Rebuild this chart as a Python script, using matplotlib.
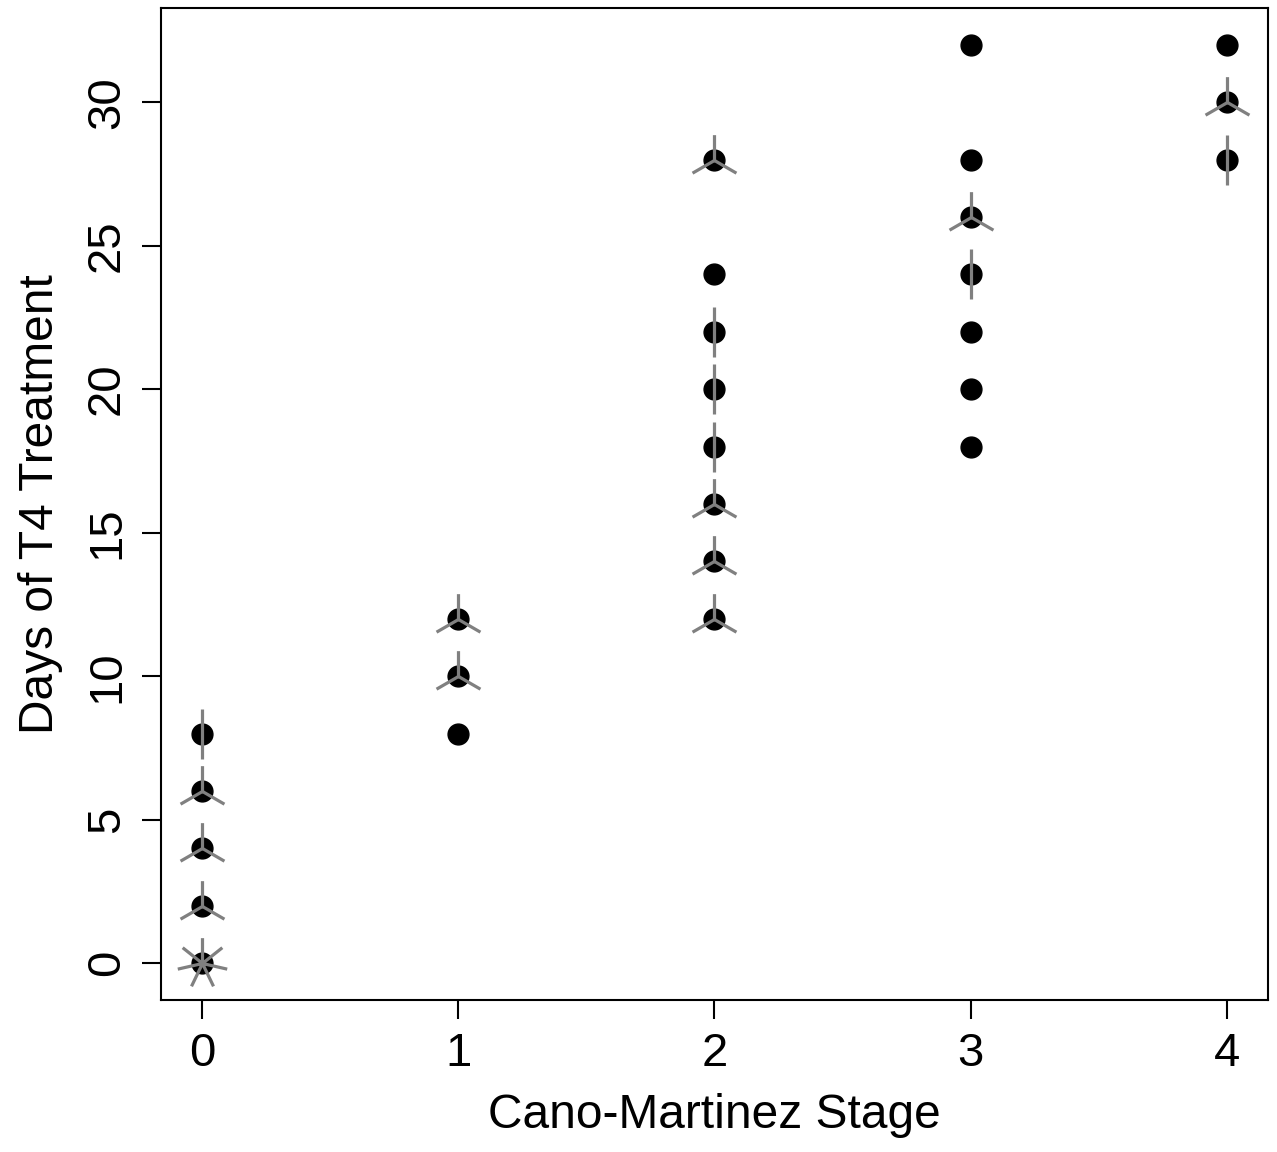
import numpy as np
import matplotlib
matplotlib.use("Agg")
import matplotlib.pyplot as plt
from matplotlib.path import Path

# Sunflower plot data: (stage, days, number of coincident observations)
stage = [0, 0, 0, 0, 0,
         1, 1, 1,
         2, 2, 2, 2, 2, 2, 2, 2,
         3, 3, 3, 3, 3, 3, 3,
         4, 4, 4]
days = [0, 2, 4, 6, 8,
        8, 10, 12,
        12, 14, 16, 18, 20, 22, 24, 28,
        18, 20, 22, 24, 26, 28, 32,
        28, 30, 32]
count = [7, 3, 3, 3, 2,
         1, 3, 3,
         3, 3, 3, 2, 2, 2, 1, 3,
         1, 1, 1, 2, 3, 1, 1,
         2, 3, 1]

x_ticks = [0, 1, 2, 3, 4]
y_ticks = [0, 5, 10, 15, 20, 25, 30]
x_label = "Cano-Martinez Stage"
y_label = "Days of T4 Treatment"

plt.rcParams['font.family'] = ['Liberation Sans', 'DejaVu Sans']

W, H, DPI = 1277, 1152, 100
fig = plt.figure(figsize=(W / DPI, H / DPI), dpi=DPI)
ax = fig.add_axes([161 / W, 1 - 1000 / H, (1268 - 161) / W, (1000 - 8) / H])

xs = np.array(stage, dtype=float)
ys = np.array(days, dtype=float)
cs = np.array(count)

# centre dots
ax.plot(xs, ys, linestyle='none', marker='o', markersize=15,
        markerfacecolor='black', markeredgecolor='black', zorder=2)


def petal_marker(n):
    verts, codes = [], []
    for k in range(n):
        a = np.pi / 2 + 2 * np.pi * k / n
        verts += [(0.0, 0.0), (np.cos(a), np.sin(a))]
        codes += [Path.MOVETO, Path.LINETO]
    return Path(verts, codes)


for n in sorted(set(cs[cs > 1])):
    m = cs == n
    ax.plot(xs[m], ys[m], linestyle='none', marker=petal_marker(int(n)),
            markersize=36.5, markerfacecolor='none', markeredgecolor='#808080',
            markeredgewidth=2.3, zorder=3)

xr = (min(stage), max(stage))
yr = (min(days), max(days))
dx = 0.04 * (xr[1] - xr[0])
dy = 0.04 * (yr[1] - yr[0])
ax.set_xlim(xr[0] - dx, xr[1] + dx)
ax.set_ylim(yr[0] - dy, yr[1] + dy)

ax.set_xticks(x_ticks)
ax.set_yticks(y_ticks)
ax.set_xticklabels([str(v) for v in x_ticks], fontsize=34)
ax.set_yticklabels([str(v) for v in y_ticks], fontsize=34, rotation=90, va='center')
ax.tick_params(length=14, width=1.5, pad=9)
for s in ax.spines.values():
    s.set_linewidth(1.5)

ax.set_xlabel(x_label, fontsize=34.5, labelpad=12)
ax.set_ylabel(y_label, fontsize=34.5, labelpad=16)

fig.savefig("out.png", dpi=DPI)
